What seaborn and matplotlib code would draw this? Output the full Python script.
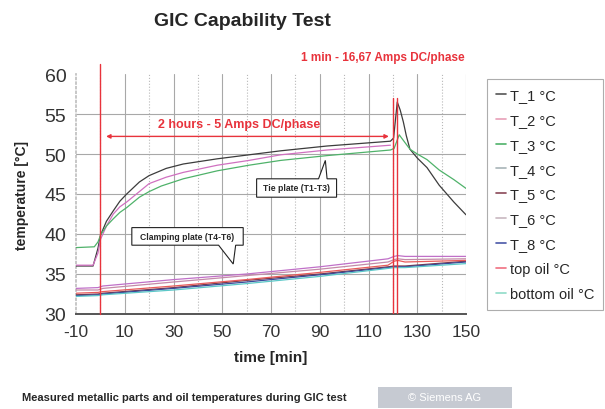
import matplotlib

matplotlib.use("Agg")
import matplotlib.pyplot as plt  # noqa: E402
import pandas as pd  # noqa: E402
import seaborn as sns  # noqa: E402
from matplotlib.lines import Line2D  # noqa: E402
from matplotlib.patches import Polygon, Rectangle  # noqa: E402

# --- datos --------------------------------------------------------------------
T1_MIN = [-10, -3, -1, 0, 2.5, 5.3, 8, 10.8, 16, 20, 27, 34, 48, 61, 74, 93, 119,
          120.3, 121.8, 123, 124.3, 125.5, 127, 130, 134, 139, 145, 150]
T1 = [36.0, 36.0, 38.2, 39.8, 41.6, 42.9, 44.1, 45.0, 46.5, 47.3, 48.2, 48.75, 49.4, 49.9,
      50.4, 51.0, 51.6, 52.0, 56.5, 55.5, 54.0, 52.3, 50.6, 49.5, 48.3, 46.1, 44.0, 42.4]

T2_MIN = [-10, -3, -1, 0, 2.5, 5.3, 8, 10.8, 16, 20, 27, 34, 48, 61, 74, 93, 119]
T2 = [36.1, 36.1, 37.6, 39.3, 41.0, 42.5, 43.4, 44.0, 45.3, 46.3, 47.1, 47.7, 48.6, 49.2,
      49.9, 50.5, 51.1]

T3_MIN = [-10, -2.5, -1, 0.3, 2.5, 5.3, 8, 10.8, 16, 20, 25, 34, 48, 61, 74, 93, 119,
          120.5, 122.6, 124.3, 127, 130, 134, 139, 145, 150]
T3 = [38.3, 38.4, 39.0, 40.0, 41.0, 41.9, 42.7, 43.3, 44.6, 45.3, 46.0, 46.9, 47.9, 48.6,
      49.2, 49.8, 50.5, 50.7, 52.4, 51.7, 50.6, 50.0, 49.3, 48.0, 46.8, 45.7]

LOW_MIN = [-10, -1, 1, 30, 60, 90, 118, 120.5, 122, 125, 150]
T4 = [33.0, 33.0, 33.2, 34.0, 34.8, 35.6, 36.5, 36.8, 36.9, 36.8, 36.9]
T5 = [32.4, 32.5, 32.6, 33.3, 34.2, 35.0, 35.9, 36.0, 36.0, 36.0, 36.6]
T6 = [33.2, 33.3, 33.5, 34.3, 35.0, 35.9, 36.9, 37.2, 37.3, 37.2, 37.2]
T8 = [32.3, 32.4, 32.5, 33.2, 34.0, 34.9, 35.8, 35.9, 35.9, 35.9, 36.5]
TOP_OIL = [32.6, 32.7, 32.8, 33.5, 34.3, 35.2, 36.1, 36.6, 36.7, 36.5, 36.7]
BOTTOM_OIL = [32.2, 32.3, 32.4, 33.0, 33.8, 34.7, 35.7, 35.8, 35.8, 35.8, 36.3]

LABELS = ["T_1 °C", "T_2 °C", "T_3 °C", "T_4 °C", "T_5 °C", "T_6 °C", "T_8 °C",
          "top oil °C", "bottom oil °C"]
LINE_COL = ["#3c3c3c", "#d070c0", "#4fb26a", "#c48aa8", "#7a3a48", "#c070c8", "#3a4a9a",
            "#e85a5a", "#5cc8c8"]
LEG_COL = ["#555555", "#e8a0b8", "#4fb26a", "#a8b4b8", "#8a4858", "#c8b8c0", "#4a58a8",
           "#f07080", "#90dcc8"]
XTICKS = [-10, 10, 30, 50, 70, 90, 110, 130, 150]
YTICKS = [30, 35, 40, 45, 50, 55, 60]

RED = "#e8333c"
NARROW = ["Liberation Sans Narrow", "Liberation Sans", "DejaVu Sans"]

sns.set_theme(style="white")
plt.rcParams["font.family"] = ["Liberation Sans", "DejaVu Sans"]
plt.rcParams["axes.unicode_minus"] = False

series = [(T1_MIN, T1), (T2_MIN, T2), (T3_MIN, T3)] + [
    (LOW_MIN, v) for v in (T4, T5, T6, T8, TOP_OIL, BOTTOM_OIL)
]
df = pd.concat(
    [pd.DataFrame({"min": m, "temp": v, "serie": lab}) for (m, v), lab in zip(series, LABELS)],
    ignore_index=True,
)

fig = plt.figure(figsize=(6.05, 4.1), dpi=100)
ax = fig.add_axes([76 / 605, 1 - 315 / 410, 390 / 605, 240 / 410])

sns.lineplot(data=df, x="min", y="temp", hue="serie", hue_order=LABELS,
             palette=dict(zip(LABELS, LINE_COL)), estimator=None, sort=False,
             lw=0.9, legend=False, ax=ax, zorder=3)

ax.set_xlim(-10, 150)
ax.set_ylim(30, 60)
ax.set_xticks(XTICKS)
ax.set_xticks(range(0, 141, 20), minor=True)
ax.set_yticks(YTICKS)
ax.set_yticks(range(30, 61), minor=True)
ax.tick_params(axis="both", which="major", labelsize=12.5, colors="#333333", direction="inout",
               length=6, width=0.8, pad=4)
ax.tick_params(axis="y", which="minor", length=2, color="#bbbbbb", direction="out")
ax.tick_params(axis="x", which="minor", length=0)
ax.tick_params(axis="y", labelsize=14)
ax.grid(which="major", axis="both", color="#a8a8a8", lw=0.8)
ax.grid(which="minor", axis="x", color="#b8b8b8", lw=0.8, ls=":")
for gl in (ax.get_ygridlines()[0], ax.get_ygridlines()[-1], ax.get_xgridlines()[0]):
    gl.set_visible(False)
for s in ("top", "right"):
    ax.spines[s].set_visible(False)
ax.spines["left"].set_color("#c0c0c0")
ax.spines["left"].set_linestyle(":")
ax.spines["bottom"].set_color("#555555")
ax.spines["bottom"].set_linewidth(1.4)

ax.set_xlabel("time [min]", fontsize=11, fontweight="bold", family=NARROW, labelpad=8)
ax.set_ylabel("temperature [°C]", fontsize=10, fontweight="bold", family=NARROW, labelpad=11)

# marcas de corriente continua
ax.axvline(0, ymax=1.04, color=RED, lw=1.0, clip_on=False, zorder=4)
ax.axvline(120, ymax=0.9, color=RED, lw=1.0, zorder=4)
ax.axvline(121.5, ymax=0.9, color=RED, lw=1.0, zorder=4)
ax.annotate("", xy=(1.2, 52.2), xytext=(119.5, 52.2),
            arrowprops=dict(arrowstyle="<|-|>", color=RED, lw=1.0, mutation_scale=6))
ax.text(57, 53.7, "2 hours - 5 Amps DC/phase", color=RED, fontsize=9, fontweight="bold",
        family=NARROW, ha="center", va="center")


def callout(x0, x1, y0, y1, b0, b1, tip, top, text):
    if top:
        pts = [(x0, y0), (x1, y0), (x1, y1), (b1, y1), tip, (b0, y1), (x0, y1)]
    else:
        pts = [(x0, y1), (x1, y1), (x1, y0), (b1, y0), tip, (b0, y0), (x0, y0)]
    ax.add_patch(Polygon(pts, closed=True, fc="white", ec="#222222", lw=0.8, zorder=5))
    ax.text((x0 + x1) / 2, (y0 + y1) / 2, text, fontsize=6.2, fontweight="bold", family=NARROW,
            ha="center", va="center", zorder=6)


callout(64.1, 96.9, 44.6, 46.9, 89.5, 93.0, (92.3, 49.2), True, "Tie plate (T1-T3)")
callout(12.9, 58.6, 38.6, 40.8, 48.5, 55.5, (54.5, 36.25), False, "Clamping plate (T4-T6)")

handles = [Line2D([0], [0], color=c, lw=1.2) for c in LEG_COL]
leg = fig.legend(handles, LABELS, loc="upper left", bbox_to_anchor=(487 / 605, 1 - 80 / 410),
                 fontsize=10.5, handlelength=0.7, handletextpad=0.3, labelspacing=0.75,
                 borderpad=0.6, borderaxespad=0, frameon=True, fancybox=False)
leg.get_frame().set_edgecolor("#999999")
leg.get_frame().set_linewidth(0.8)

fig.text(242 / 605, 1 - 22 / 410, "GIC Capability Test", fontsize=14, fontweight="bold",
         family=NARROW, ha="center", va="center")
fig.text(383 / 605, 1 - 58 / 410, "1 min - 16,67 Amps DC/phase", color=RED, fontsize=8.5,
         fontweight="bold", family=NARROW, ha="center", va="center")
fig.text(22 / 605, 1 - 398 / 410, "Measured metallic parts and oil temperatures during GIC test",
         fontsize=8, fontweight="bold", family=NARROW, ha="left", va="center")
fig.add_artist(Rectangle((378 / 605, 1 - 409 / 410), 134 / 605, 21 / 410,
                         transform=fig.transFigure, fc="#c6cad2", ec="none"))
fig.text(445 / 605, 1 - 398 / 410, "© Siemens AG", fontsize=8, color="white", family=NARROW,
         ha="center", va="center")

fig.savefig("out.png", dpi=100)
